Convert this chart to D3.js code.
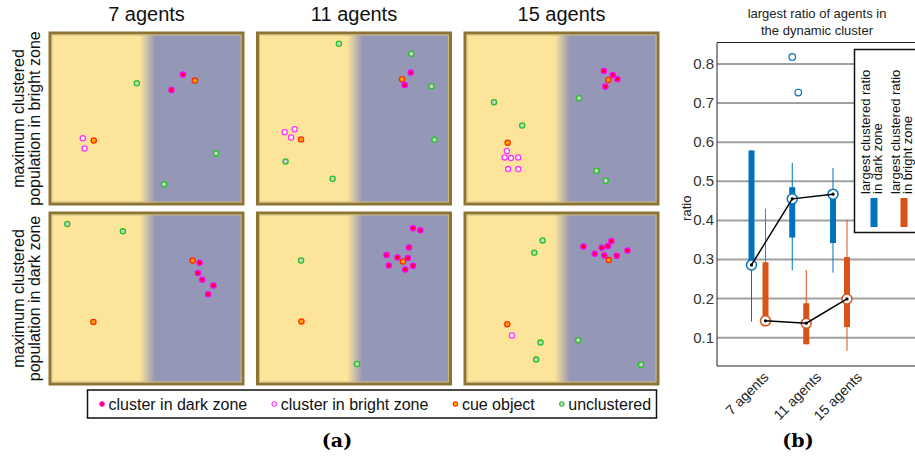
<!DOCTYPE html>
<html>
<head>
<meta charset="utf-8">
<script src="https://cdn.jsdelivr.net/npm/d3@7"></script>
<style>
  body { margin: 0; background: #fff; }
  svg { font-family: "Liberation Sans", Arial, sans-serif; }
</style>
</head>
<body>
<div id="wrapper"></div>
<script>
// ---- data (a): agent snapshots, [x, y, kind], x/y as arena fraction, y from top
const columnTitles = ["7 agents", "11 agents", "15 agents"]
const rowTitles = [
  ["maximum clustered", "population in bright zone"],
  ["maximum clustered", "population in dark zone"],
]
const bright7 = [
  [0.449, 0.289, "free"], [0.693, 0.237, "dark"], [0.756, 0.273, "cue"],
  [0.632, 0.329, "dark"], [0.163, 0.618, "bright"], [0.221, 0.631, "cue"],
  [0.172, 0.679, "bright"], [0.868, 0.709, "free"], [0.593, 0.894, "free"],
]
const bright11 = [
  [0.420, 0.052, "free"], [0.803, 0.112, "free"], [0.800, 0.225, "dark"],
  [0.754, 0.265, "cue"], [0.768, 0.299, "dark"], [0.910, 0.307, "free"],
  [0.186, 0.564, "bright"], [0.133, 0.582, "bright"], [0.167, 0.614, "bright"],
  [0.220, 0.625, "cue"], [0.926, 0.627, "free"], [0.138, 0.757, "free"],
  [0.387, 0.861, "free"],
]
const bright15 = [
  [0.724, 0.215, "dark"], [0.771, 0.239, "dark"], [0.796, 0.265, "dark"],
  [0.732, 0.309, "dark"], [0.748, 0.269, "cue"], [0.143, 0.402, "free"],
  [0.593, 0.378, "free"], [0.292, 0.542, "free"], [0.215, 0.645, "cue"],
  [0.211, 0.695, "bright"], [0.199, 0.733, "bright"], [0.232, 0.737, "bright"],
  [0.271, 0.733, "bright"], [0.218, 0.803, "bright"], [0.271, 0.803, "bright"],
  [0.685, 0.813, "free"], [0.734, 0.873, "free"],
]
const dark7 = [
  [0.081, 0.054, "free"], [0.375, 0.098, "free"], [0.744, 0.272, "cue"],
  [0.781, 0.286, "dark"], [0.772, 0.348, "dark"], [0.795, 0.388, "dark"],
  [0.854, 0.422, "dark"], [0.826, 0.474, "dark"], [0.219, 0.640, "cue"],
]
const dark11 = [
  [0.812, 0.080, "dark"], [0.851, 0.092, "dark"], [0.791, 0.194, "dark"],
  [0.672, 0.240, "dark"], [0.730, 0.254, "dark"], [0.785, 0.258, "dark"],
  [0.684, 0.302, "dark"], [0.812, 0.304, "dark"], [0.771, 0.326, "dark"],
  [0.759, 0.278, "cue"], [0.220, 0.272, "free"], [0.222, 0.638, "cue"],
  [0.516, 0.892, "free"],
]
const dark15 = [
  [0.400, 0.152, "free"], [0.356, 0.226, "free"], [0.616, 0.188, "dark"],
  [0.713, 0.196, "dark"], [0.746, 0.186, "dark"], [0.764, 0.156, "dark"],
  [0.849, 0.212, "dark"], [0.676, 0.232, "dark"], [0.727, 0.242, "dark"],
  [0.792, 0.244, "dark"], [0.750, 0.270, "cue"], [0.213, 0.654, "cue"],
  [0.238, 0.722, "bright"], [0.389, 0.764, "free"], [0.588, 0.750, "free"],
  [0.366, 0.866, "free"], [0.921, 0.896, "free"],
]
const panels = [[bright7, bright11, bright15], [dark7, dark11, dark15]]
const legendKinds = ["dark", "bright", "cue", "free"]
const legendLabels = ["cluster in dark zone", "cluster in bright zone", "cue object", "unclustered"]

// ---- data (b): largest ratio box plot
const boxCategories = ["7 agents", "11 agents", "15 agents"]
const darkLow = [0.141, 0.272, 0.266]
const darkQ1 = [0.286, 0.356, 0.342]
const darkMedian = [0.286, 0.455, 0.467]
const darkQ3 = [0.579, 0.485, 0.478]
const darkHigh = [0.579, 0.547, 0.534]
const darkOutliers = [["11 agents", 0.818], ["11 agents", 0.727]]
const brightLow = [0.143, 0.083, 0.066]
const brightQ1 = [0.143, 0.083, 0.127]
const brightMedian = [0.143, 0.137, 0.199]
const brightQ3 = [0.293, 0.188, 0.306]
const brightHigh = [0.430, 0.273, 0.401]
const yTicks = [0.1, 0.2, 0.3, 0.4, 0.5, 0.6, 0.7, 0.8]

const kindStyle = {
  dark: { fill: "#ff0033", stroke: "#ff00ff" },
  bright: { fill: "#ffffff", stroke: "#ff33ff" },
  cue: { fill: "#ffa500", stroke: "#ff2a00" },
  free: { fill: "#c9d3c9", stroke: "#22c322" },
}
const blue = "#0072bd"
const orange = "#d95319"

const width = 915
const height = 460
const svg = d3.select("#wrapper").append("svg")
  .attr("width", width)
  .attr("height", height)

const defs = svg.append("defs")
const grad = defs.append("linearGradient").attr("id", "zone")
grad.append("stop").attr("offset", "46.5%").attr("stop-color", "#fde49b")
grad.append("stop").attr("offset", "54.5%").attr("stop-color", "#9497b5")

// ---- panel grid
const panelW = 193
const panelH = 171
const colX = d3.scalePoint().domain(columnTitles).range([50, 465])
const rowY = [33, 213]

svg.selectAll(".coltitle")
  .data(columnTitles)
  .join("text")
    .attr("x", d => colX(d) + panelW / 2)
    .attr("y", 21)
    .attr("text-anchor", "middle")
    .attr("font-size", 20)
    .attr("fill", "#111")
    .text(d => d)

rowTitles.forEach((lines, r) => {
  const cy = rowY[r] + panelH / 2
  lines.forEach((line, i) => {
    svg.append("text")
      .attr("transform", `translate(${24 + i * 16},${cy}) rotate(-90)`)
      .attr("text-anchor", "middle")
      .attr("font-size", 16)
      .attr("fill", "#111")
      .text(line)
  })
})

panels.forEach((row, r) => {
  row.forEach((pts, c) => {
    const x0 = colX(columnTitles[c])
    const y0 = rowY[r]
    const g = svg.append("g")
    g.append("rect")
      .attr("x", x0).attr("y", y0)
      .attr("width", panelW).attr("height", panelH)
      .attr("fill", "url(#zone)")
      .attr("stroke", "#8c7434")
      .attr("stroke-width", 3)
    g.append("rect")
      .attr("x", x0 + 2).attr("y", y0 + 2)
      .attr("width", panelW - 4).attr("height", panelH - 4)
      .attr("fill", "none")
      .attr("stroke", "#cdb97c")
      .attr("stroke-width", 1)

    const px = d3.scaleLinear().domain([0, 1]).range([x0 + 2, x0 + panelW - 2])
    const py = d3.scaleLinear().domain([0, 1]).range([y0 + 2, y0 + panelH - 2])
    g.selectAll("circle")
      .data(pts)
      .join("circle")
        .attr("cx", d => px(d[0]))
        .attr("cy", d => py(d[1]))
        .attr("r", 2.6)
        .attr("fill", d => kindStyle[d[2]].fill)
        .attr("stroke", d => kindStyle[d[2]].stroke)
        .attr("stroke-width", 1.3)
  })
})

// legend (a)
const legA = svg.append("g")
legA.append("rect")
  .attr("x", 87.5).attr("y", 390)
  .attr("width", 569).attr("height", 28)
  .attr("fill", "#fff")
  .attr("stroke", "#111")
  .attr("stroke-width", 1.5)
let lx = 102
legendKinds.forEach((k, i) => {
  legA.append("circle")
    .attr("cx", lx).attr("cy", 404)
    .attr("r", 2.2)
    .attr("fill", kindStyle[k].fill)
    .attr("stroke", kindStyle[k].stroke)
    .attr("stroke-width", 1.1)
  const t = legA.append("text")
    .attr("x", lx + 6.5).attr("y", 409.5)
    .attr("font-size", 16)
    .attr("fill", "#111")
    .text(legendLabels[i])
  lx += 6.5 + t.node().getComputedTextLength() + 27
})

svg.append("text")
  .attr("x", 337).attr("y", 447)
  .attr("text-anchor", "middle")
  .attr("font-family", "'DejaVu Serif', serif")
  .attr("font-weight", "bold")
  .attr("font-size", 19)
  .text("(a)")

// ---- (b) box plot
const axL = 717
const axT = 42.5
const axB = 366
const axR = 925
const y = d3.scaleLinear().domain([0.0275, 0.855]).range([axB, axT])
const x = d3.scalePoint().domain(boxCategories).range([758.5, 840])
const off = 7
const boxW = 6

const b = svg.append("g")
b.selectAll(".grid")
  .data(yTicks)
  .join("line")
    .attr("x1", axL).attr("x2", axR)
    .attr("y1", d => y(d)).attr("y2", d => y(d))
    .attr("stroke", "#a0a0a0")
    .attr("stroke-width", 2)

b.append("path")
  .attr("d", `M${axR},${axT}H${axL}V${axB}H${axR}`)
  .attr("fill", "none")
  .attr("stroke", "#222")
  .attr("stroke-width", 1)

b.selectAll(".ytick")
  .data(yTicks)
  .join("text")
    .attr("x", axL - 3)
    .attr("y", d => y(d) + 5)
    .attr("text-anchor", "end")
    .attr("font-size", 15)
    .attr("fill", "#333")
    .text(d => d3.format(".1f")(d))

b.append("text")
  .attr("transform", `translate(691,${(axT + axB) / 2 + 4}) rotate(-90)`)
  .attr("text-anchor", "middle")
  .attr("font-size", 13)
  .attr("fill", "#222")
  .text("ratio")

b.append("text")
  .attr("x", 817).attr("y", 18)
  .attr("text-anchor", "middle")
  .attr("font-size", 13)
  .attr("fill", "#222")
  .text("largest ratio of agents in")
b.append("text")
  .attr("x", 817).attr("y", 35)
  .attr("text-anchor", "middle")
  .attr("font-size", 13)
  .attr("fill", "#222")
  .text("the dynamic cluster")

b.selectAll(".xtick")
  .data(boxCategories)
  .join("text")
    .attr("transform", (d, i) => `translate(${x(d) + (i === 0 ? 11 : 23)},${axB + 12}) rotate(-45)`)
    .attr("text-anchor", "end")
    .attr("font-size", 14)
    .attr("fill", "#222")
    .text(d => d)

function drawBoxes(cls, color, dx, low, q1, q3, high) {
  const gx = d => x(d) + dx
  b.selectAll(".wh-" + cls)
    .data(boxCategories)
    .join("line")
      .attr("x1", gx).attr("x2", gx)
      .attr("y1", (d, i) => y(low[i])).attr("y2", (d, i) => y(high[i]))
      .attr("stroke", color)
      .attr("stroke-width", 1)
  b.selectAll(".bx-" + cls)
    .data(boxCategories)
    .join("rect")
      .attr("x", d => gx(d) - boxW / 2)
      .attr("width", boxW)
      .attr("y", (d, i) => y(q3[i]))
      .attr("height", (d, i) => y(q1[i]) - y(q3[i]))
      .attr("fill", color)
}
drawBoxes("dark", blue, -off, darkLow, darkQ1, darkQ3, darkHigh)
drawBoxes("bright", orange, off, brightLow, brightQ1, brightQ3, brightHigh)

b.selectAll(".outlier")
  .data(darkOutliers)
  .join("circle")
    .attr("cx", (d, i) => x(d[0]) - off + i * 6)
    .attr("cy", d => y(d[1]))
    .attr("r", 3.3)
    .attr("fill", "none")
    .attr("stroke", blue)
    .attr("stroke-width", 1.2)

const medLine = d3.line()
  .x(d => d[0])
  .y(d => y(d[1]))
function drawMedians(color, dx, med) {
  const pts = boxCategories.map((c, i) => [x(c) + dx, med[i]])
  b.selectAll(null)
    .data(pts)
    .join("circle")
      .attr("cx", d => d[0]).attr("cy", d => y(d[1]))
      .attr("r", 5)
      .attr("fill", "#fff")
      .attr("stroke", color)
      .attr("stroke-width", 1.5)
  b.append("path")
    .attr("d", medLine(pts))
    .attr("fill", "none")
    .attr("stroke", "#000")
    .attr("stroke-width", 1.5)
  b.selectAll(null)
    .data(pts)
    .join("circle")
      .attr("cx", d => d[0]).attr("cy", d => y(d[1]))
      .attr("r", 1.6)
      .attr("fill", "#000")
}
drawMedians(blue, -off, darkMedian)
drawMedians(orange, off, brightMedian)

// legend (b)
const legB = b.append("g")
legB.append("rect")
  .attr("x", 854.5).attr("y", 49.5)
  .attr("width", 80).attr("height", 183)
  .attr("fill", "#fff")
  .attr("stroke", "#111")
  .attr("stroke-width", 1.5)
const legBItems = [
  { color: blue, lines: ["largest clustered ratio", "in dark zone"], x: 870 },
  { color: orange, lines: ["largest clustered ratio", "in bright zone"], x: 900 },
]
legBItems.forEach(it => {
  it.lines.forEach((line, i) => {
    legB.append("text")
      .attr("transform", `translate(${it.x + i * 12},194) rotate(-90)`)
      .attr("font-size", 13)
      .attr("fill", "#111")
      .text(line)
  })
  legB.append("rect")
    .attr("x", it.x + 0.5).attr("y", 198)
    .attr("width", 7).attr("height", 29)
    .attr("fill", it.color)
})

svg.append("text")
  .attr("x", 798).attr("y", 447)
  .attr("text-anchor", "middle")
  .attr("font-family", "'DejaVu Serif', serif")
  .attr("font-weight", "bold")
  .attr("font-size", 19)
  .text("(b)")
</script>
</body>
</html>
